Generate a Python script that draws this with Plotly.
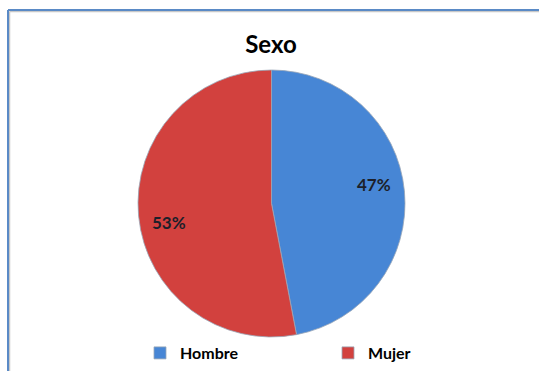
import math
import plotly.graph_objects as go

labels = ["Hombre", "Mujer"]
values = [47, 53]
colors = ["#4786d5", "#d2413e"]

W, H = 539, 371
CX, CY, R = 271.5, 203.5, 133.5

fig = go.Figure()
fig.add_trace(go.Pie(
    labels=labels, values=values, sort=False, direction="clockwise", rotation=0,
    marker=dict(colors=colors, line=dict(color="#9aa7b8", width=0.8)),
    textinfo="none", hoverinfo="label+percent",
    domain=dict(x=[(CX - R) / W, (CX + R) / W], y=[1 - (CY + R) / H, 1 - (CY - R) / H]),
    showlegend=True,
))

# percentage labels placed at slice mid-angles (computed from the values)
total = sum(values)
annotations = []
start = 0.0
for v in values:
    mid = start + 360.0 * v / total / 2 - 5
    start += 360.0 * v / total
    rr = 0.78 * R
    x = CX + rr * math.sin(math.radians(mid))
    y = CY - rr * math.cos(math.radians(mid))
    annotations.append(dict(
        x=x / W, y=1 - y / H, xref="paper", yref="paper", showarrow=False,
        text=f"<b>{round(100 * v / total)}%</b>",
        font=dict(family="Lato", size=17, color="#1c1f2a"),
        xanchor="center", yanchor="middle"))

fig.update_layout(
    width=W, height=H,
    margin=dict(l=0, r=0, t=0, b=0),
    paper_bgcolor="white", plot_bgcolor="white",
    xaxis=dict(visible=False, showgrid=False, zeroline=False),
    yaxis=dict(visible=False, showgrid=False, zeroline=False),
    title=dict(text="<b>Sexo</b>", x=271 / W, xanchor="center", y=1 - 45 / H, yanchor="middle",
               font=dict(family="Lato", size=24, color="#000000")),
    legend=dict(orientation="h", x=140 / W, xanchor="left", y=1 - 353 / H, yanchor="middle",
                entrywidth=143, entrywidthmode="pixels",
                font=dict(family="Lato", size=16, color="#000000", weight="bold"),
                itemwidth=30, bgcolor="rgba(0,0,0,0)"),
    annotations=annotations,
    shapes=[
        dict(type="line", xref="paper", yref="paper",
             x0=9.5 / W, x1=9.5 / W, y0=0, y1=1 - 11.5 / H,
             line=dict(color="#c8c8c8", width=1.5), layer="below"),
        dict(type="line", xref="paper", yref="paper",
             x0=9.5 / W, x1=1, y0=1 - 11.5 / H, y1=1 - 11.5 / H,
             line=dict(color="#c8c8c8", width=1.5), layer="below"),
        dict(type="line", xref="paper", yref="paper",
             x0=8 / W, x1=8 / W, y0=0, y1=1 - 10 / H,
             line=dict(color="#5a8ac6", width=2), layer="below"),
        dict(type="line", xref="paper", yref="paper",
             x0=8 / W, x1=1, y0=1 - 10 / H, y1=1 - 10 / H,
             line=dict(color="#5a8ac6", width=2), layer="below"),
    ],
)

fig.write_html("out.html", config={"displayModeBar": False})
